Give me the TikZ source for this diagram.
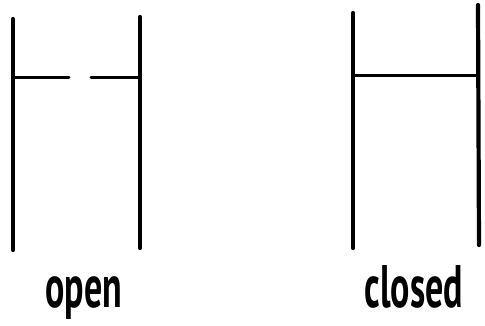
\documentclass[tikz,border=0pt]{standalone}
\usepackage{fontspec}
\setmainfont{PT Sans}
\usetikzlibrary{calc}

\begin{document}
\begin{tikzpicture}[x=1pt, y=-1pt, line width=4.2pt, line cap=round]
  \useasboundingbox (0,0) rectangle (485,325);
  \def\hy{77}
  % open switch
  \coordinate (OLt) at (13,19);
  \coordinate (OLb) at (13,250);
  \coordinate (ORt) at (140,17);
  \coordinate (ORb) at (140,248);
  \draw (OLt) -- (OLb);
  \draw (ORt) -- (ORb);
  \draw[line width=3pt] (13,\hy) -- (69,\hy);
  \draw[line width=3pt] (91,\hy) -- (140,\hy);
  % closed switch
  \coordinate (CLt) at (353,13);
  \coordinate (CLb) at (353,248);
  \coordinate (CRt) at (478,5);
  \coordinate (CRb) at (479,245);
  \draw (CLt) -- (CLb);
  \draw (CRt) -- (CRb);
  \draw[line width=3pt] (353,75) -- (478,75);
  \node[font=\fontsize{60}{62}\selectfont\bfseries, xscale=0.6, anchor=base, inner sep=0pt]
    (open) at (84,307) {open};
  \node[font=\fontsize{60}{62}\selectfont\bfseries, xscale=0.6, anchor=base, inner sep=0pt]
    (closed) at (414,307) {closed};
\end{tikzpicture}
\end{document}
